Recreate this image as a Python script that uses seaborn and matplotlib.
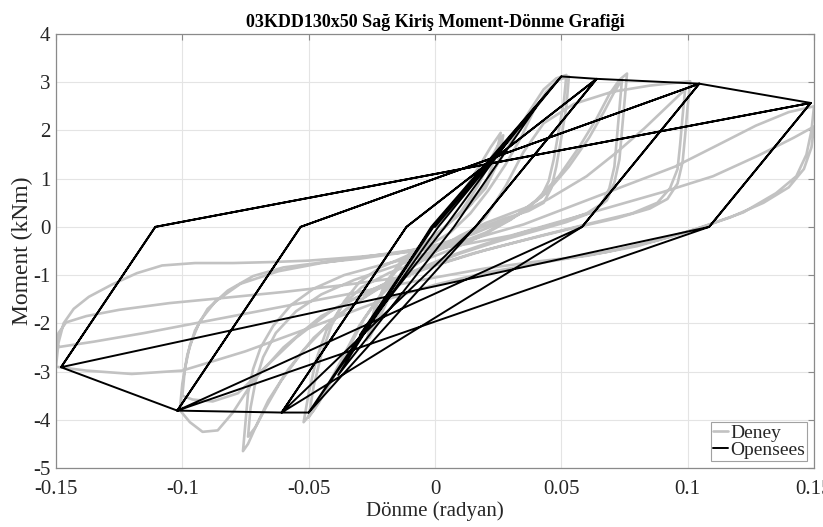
import matplotlib
matplotlib.use("Agg")
import matplotlib.pyplot as plt
import pandas as pd
import seaborn as sns

# ---------------------------------------------------------------
# Deney (test) hysteresis, drawn as one continuous path, cycle by cycle
# (rotation [rad], moment [kNm])
# ---------------------------------------------------------------
deney_small = [
    (0.000, 0.00), (0.006, 0.35), (0.012, 0.80), (0.018, 1.30), (0.022, 1.65), (0.026, 1.95),
    (0.024, 1.45), (0.020, 0.90), (0.014, 0.45), (0.007, 0.15), (0.000, -0.20), (-0.007, -0.55),
    (-0.013, -1.00), (-0.019, -1.55), (-0.023, -2.00), (-0.026, -2.30),
    (-0.024, -1.75), (-0.020, -1.20), (-0.014, -0.75), (-0.006, -0.40), (0.002, -0.10), (0.010, 0.30),
    (0.017, 0.85), (0.022, 1.40), (0.027, 1.90),
    (0.025, 1.35), (0.020, 0.80), (0.013, 0.40), (0.005, 0.05), (-0.003, -0.30), (-0.011, -0.75),
    (-0.018, -1.35), (-0.023, -1.90), (-0.027, -2.35),
]

deney_005 = [
    (-0.024, -1.70), (-0.019, -1.15), (-0.012, -0.70), (-0.004, -0.35), (0.004, 0.00), (0.012, 0.40),
    (0.019, 0.85), (0.026, 1.40), (0.032, 1.95), (0.038, 2.45), (0.043, 2.85), (0.048, 3.08), (0.052, 3.15),
    (0.051, 2.60), (0.049, 2.00), (0.047, 1.40), (0.045, 0.95), (0.042, 0.62), (0.037, 0.42), (0.030, 0.28),
    (0.020, 0.08), (0.010, -0.18), (0.000, -0.48), (-0.010, -0.85), (-0.020, -1.30), (-0.028, -1.90),
    (-0.035, -2.60), (-0.041, -3.20), (-0.046, -3.65), (-0.050, -3.95),
    (-0.048, -3.30), (-0.045, -2.65), (-0.041, -2.05), (-0.036, -1.55), (-0.030, -1.15), (-0.022, -0.85),
    (-0.012, -0.62), (-0.003, -0.40), (0.006, -0.12), (0.014, 0.28), (0.021, 0.75), (0.028, 1.30),
    (0.034, 1.85), (0.039, 2.40), (0.044, 2.80), (0.049, 3.05), (0.053, 3.12),
    (0.052, 2.50), (0.050, 1.85), (0.048, 1.25), (0.046, 0.80), (0.043, 0.50), (0.037, 0.33), (0.028, 0.18),
    (0.018, -0.02), (0.008, -0.28), (-0.002, -0.58), (-0.012, -0.95), (-0.022, -1.45), (-0.030, -2.05),
    (-0.037, -2.75), (-0.043, -3.35), (-0.048, -3.80), (-0.052, -4.05),
]

deney_0075 = [
    (-0.050, -3.45), (-0.047, -2.75), (-0.043, -2.15), (-0.037, -1.65), (-0.029, -1.25), (-0.018, -0.95),
    (-0.006, -0.72), (0.006, -0.48), (0.018, -0.20), (0.030, 0.15), (0.040, 0.55), (0.049, 1.05),
    (0.057, 1.65), (0.064, 2.25), (0.069, 2.75), (0.073, 3.05), (0.076, 3.18),
    (0.075, 2.60), (0.074, 2.00), (0.073, 1.40), (0.071, 0.92), (0.068, 0.55), (0.062, 0.30), (0.052, 0.10),
    (0.040, -0.08), (0.025, -0.30), (0.010, -0.55), (-0.005, -0.85), (-0.020, -1.20), (-0.035, -1.70),
    (-0.048, -2.30), (-0.058, -2.95), (-0.066, -3.60), (-0.071, -4.15), (-0.074, -4.50), (-0.076, -4.65),
    (-0.075, -4.05), (-0.074, -3.45), (-0.072, -2.95), (-0.069, -2.50), (-0.064, -2.05), (-0.057, -1.62),
    (-0.048, -1.28), (-0.036, -1.00), (-0.022, -0.80), (-0.008, -0.62), (0.006, -0.40), (0.020, -0.12),
    (0.033, 0.25), (0.044, 0.70), (0.053, 1.25), (0.061, 1.85), (0.067, 2.40), (0.071, 2.80), (0.074, 3.05),
    (0.073, 2.45), (0.072, 1.85), (0.071, 1.25), (0.069, 0.80), (0.066, 0.48), (0.060, 0.28), (0.050, 0.10),
    (0.036, -0.10), (0.020, -0.35), (0.005, -0.62), (-0.010, -0.95), (-0.025, -1.35), (-0.040, -1.90),
    (-0.052, -2.55), (-0.061, -3.20), (-0.067, -3.75), (-0.071, -4.15), (-0.074, -4.35),
]

deney_010 = [
    (-0.073, -3.75), (-0.071, -3.20), (-0.068, -2.70), (-0.063, -2.20), (-0.055, -1.75), (-0.045, -1.40),
    (-0.032, -1.10), (-0.018, -0.85), (-0.004, -0.60), (0.010, -0.30), (0.020, 0.20), (0.028, 0.85),
    (0.035, 1.55), (0.043, 2.15), (0.055, 2.55), (0.070, 2.80), (0.085, 2.93), (0.101, 3.02),
    (0.100, 2.50), (0.099, 1.90), (0.098, 1.35), (0.096, 0.90), (0.092, 0.58), (0.085, 0.38), (0.072, 0.18),
    (0.055, -0.02), (0.035, -0.28), (0.015, -0.55), (-0.005, -0.88), (-0.025, -1.30), (-0.045, -1.85),
    (-0.060, -2.50), (-0.072, -3.20), (-0.080, -3.85), (-0.086, -4.22), (-0.092, -4.25), (-0.097, -4.05),
    (-0.101, -3.80),
    (-0.100, -3.25), (-0.098, -2.65), (-0.095, -2.15), (-0.090, -1.70), (-0.082, -1.32), (-0.072, -1.02),
    (-0.060, -0.84), (-0.045, -0.74), (-0.030, -0.66), (-0.015, -0.55), (0.000, -0.38), (0.015, -0.15),
    (0.030, 0.18), (0.045, 0.58), (0.060, 1.05), (0.072, 1.55), (0.083, 2.05), (0.092, 2.50), (0.099, 2.85),
    (0.098, 2.30), (0.097, 1.70), (0.096, 1.20), (0.093, 0.80), (0.088, 0.50), (0.078, 0.28), (0.062, 0.08),
    (0.042, -0.18), (0.020, -0.48), (0.000, -0.80), (-0.020, -1.18), (-0.040, -1.70), (-0.055, -2.30),
    (-0.068, -2.95), (-0.078, -3.45), (-0.088, -3.62), (-0.096, -3.58), (-0.100, -3.50),
]

deney_015 = [
    (-0.099, -2.95), (-0.097, -2.45), (-0.093, -1.95), (-0.087, -1.55), (-0.077, -1.18), (-0.062, -0.92),
    (-0.045, -0.75), (-0.025, -0.60), (-0.005, -0.45), (0.015, -0.25), (0.035, 0.05), (0.055, 0.45),
    (0.075, 0.85), (0.095, 1.25), (0.112, 1.70), (0.127, 2.10), (0.140, 2.38), (0.150, 2.50),
    (0.149, 2.00), (0.147, 1.50), (0.143, 1.05), (0.135, 0.70), (0.122, 0.30), (0.106, 0.00), (0.088, -0.28),
    (0.068, -0.52), (0.045, -0.72), (0.020, -0.95), (0.000, -1.20), (-0.025, -1.60), (-0.050, -2.10),
    (-0.075, -2.58), (-0.100, -2.98), (-0.120, -3.05), (-0.138, -2.98), (-0.150, -2.90),
    (-0.149, -2.40), (-0.147, -2.00), (-0.143, -1.70), (-0.137, -1.45), (-0.128, -1.20), (-0.118, -0.96),
    (-0.108, -0.80), (-0.095, -0.75), (-0.080, -0.75), (-0.065, -0.73), (-0.050, -0.70), (-0.030, -0.62),
    (-0.010, -0.52), (0.010, -0.38), (0.030, -0.18), (0.050, 0.12), (0.070, 0.42), (0.090, 0.72),
    (0.110, 1.05), (0.128, 1.48), (0.142, 1.85), (0.150, 2.08),
    (0.149, 1.65), (0.146, 1.20), (0.140, 0.82), (0.130, 0.50), (0.117, 0.20), (0.100, -0.10), (0.080, -0.40),
    (0.060, -0.60), (0.040, -0.72), (0.020, -0.86), (0.000, -1.05), (-0.030, -1.35), (-0.060, -1.65),
    (-0.090, -1.95), (-0.115, -2.20), (-0.135, -2.38), (-0.150, -2.50),
    (-0.149, -2.20), (-0.146, -1.98), (-0.138, -1.85), (-0.125, -1.72), (-0.105, -1.58), (-0.085, -1.48),
    (-0.060, -1.35), (-0.035, -1.20), (-0.010, -1.02),
]

# ---------------------------------------------------------------
# OpenSees model response: peak-oriented multilinear path (vertices)
# ---------------------------------------------------------------
opensees = [
    (0.000, 0.00),
    (0.030, 1.86), (0.004, 0.00), (-0.0297, -2.24), (-0.001, 0.00),
    (0.040, 2.48), (0.0075, 0.00), (-0.0383, -3.07), (-0.0015, 0.00),
    (0.050, 3.12), (0.0013, 0.00), (-0.050, -3.85), (-0.0006, 0.00),
    (0.050, 3.12), (0.064, 3.07), (0.016, 0.00), (-0.050, -3.85), (-0.0607, -3.85), (-0.0113, 0.00),
    (0.064, 3.07), (0.016, 0.00), (-0.0607, -3.85), (-0.0113, 0.00),
    (0.064, 3.07), (0.1046, 2.97), (0.0582, 0.00), (-0.0607, -3.85), (-0.102, -3.81), (-0.0532, 0.00),
    (0.1046, 2.97), (0.0582, 0.00), (-0.102, -3.81), (-0.0532, 0.00),
    (0.1046, 2.97), (0.1487, 2.57), (0.1085, 0.00), (-0.102, -3.81), (-0.148, -2.91), (-0.1107, 0.00),
    (0.1487, 2.57), (0.1085, 0.00), (-0.148, -2.91), (-0.1107, 0.00), (0.1487, 2.57),
]

x_ticks = [-0.15, -0.1, -0.05, 0, 0.05, 0.1, 0.15]
x_tick_labels = ["-0.15", "-0.1", "-0.05", "0", "0.05", "0.1", "0.15"]
y_ticks = [-5, -4, -3, -2, -1, 0, 1, 2, 3, 4]
y_tick_labels = ["-5", "-4", "-3", "-2", "-1", "0", "1", "2", "3", "4"]

title = "03KDD130x50 Sağ Kiriş Moment-Dönme Grafiği"


def to_frame(points, name):
    df = pd.DataFrame(points, columns=["donme", "moment"])
    df["seri"] = name
    return df


deney_df = to_frame(deney_small + deney_005 + deney_0075 + deney_010 + deney_015, "Deney")
ops_df = to_frame(opensees, "Opensees")

sns.set_style("white")
plt.rcParams["font.family"] = ["Liberation Serif", "DejaVu Serif"]
plt.rcParams["axes.unicode_minus"] = False

fig = plt.figure(figsize=(8.23, 5.27), dpi=100)
ax = fig.add_axes([56 / 823, 59 / 527, 758 / 823, 434 / 527])

sns.lineplot(data=deney_df, x="donme", y="moment", sort=False, estimator=None,
             color="#c2c2c2", linewidth=1.9, label="Deney", ax=ax)
sns.lineplot(data=ops_df, x="donme", y="moment", sort=False, estimator=None,
             color="black", linewidth=1.4, label="Opensees", ax=ax)

ax.set_xlim(-0.15, 0.15)
ax.set_ylim(-5, 4)
ax.set_xticks(x_ticks)
ax.set_xticklabels(x_tick_labels)
ax.set_yticks(y_ticks)
ax.set_yticklabels(y_tick_labels)
ax.grid(True, color="#e4e4e4", linewidth=0.8)
ax.set_axisbelow(True)

ax.tick_params(direction="in", length=4, width=0.8, colors="#8a8a8a",
               labelcolor="#262626", labelsize=15, top=True, right=True)
ax.tick_params(axis="x", pad=9)
ax.tick_params(axis="y", pad=4)
for sp in ax.spines.values():
    sp.set_color("#8a8a8a")
    sp.set_linewidth(0.9)

ax.set_xlabel("Dönme (radyan)", fontsize=15, color="#262626", labelpad=1)
ax.set_ylabel("Moment (kNm)", fontsize=17, color="#262626", labelpad=0)
ax.set_title(title, fontsize=13, fontweight="bold", color="black", pad=5)

leg = ax.legend(loc="lower right", frameon=True, fancybox=False, edgecolor="#8a8a8a",
                fontsize=14, handlelength=0.8, handletextpad=0.1, borderpad=0.1,
                labelspacing=0.0, borderaxespad=0.35)
leg.get_frame().set_linewidth(0.8)
for txt in leg.get_texts():
    txt.set_color("#262626")

fig.savefig("out.png", dpi=100)
